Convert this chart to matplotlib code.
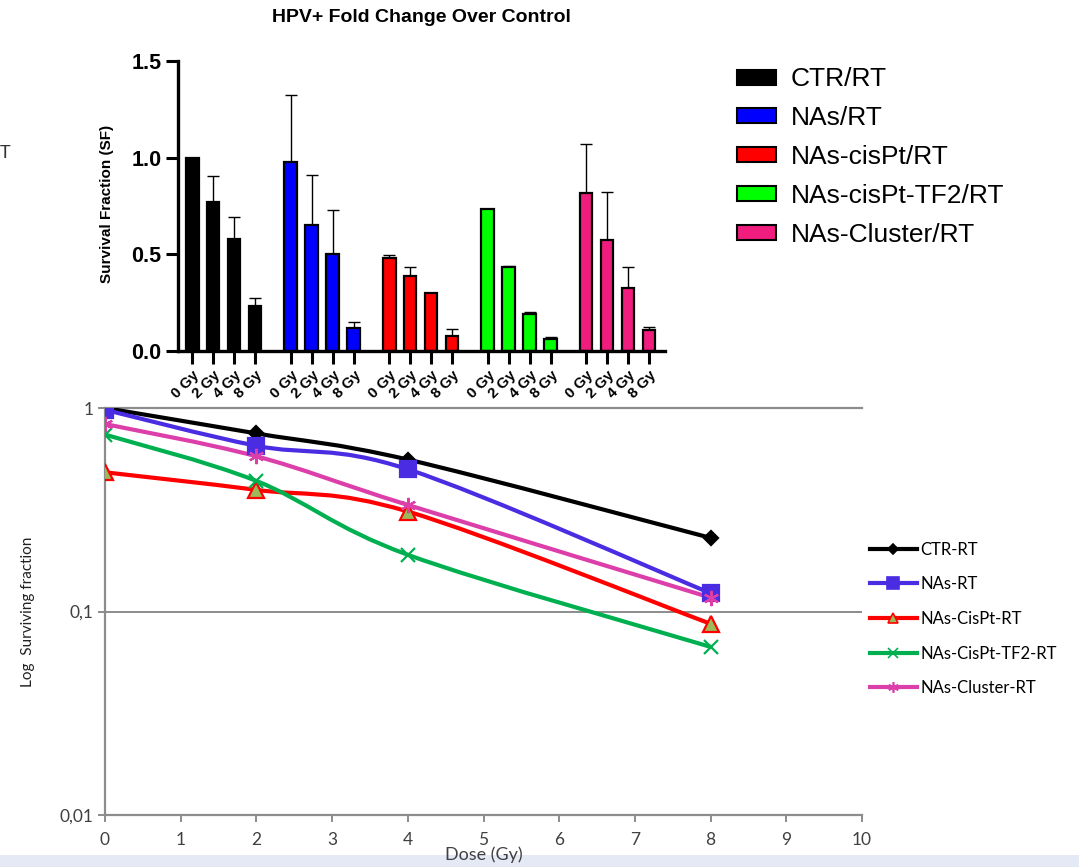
import numpy as np
import matplotlib
matplotlib.use('Agg')
import matplotlib.pyplot as plt
from matplotlib.path import Path
from matplotlib.patches import PathPatch, Patch, Rectangle
from matplotlib.lines import Line2D

# ---- top: bar chart (GraphPad style) ----
groups = ['CTR/RT', 'NAs/RT', 'NAs-cisPt/RT', 'NAs-cisPt-TF2/RT', 'NAs-Cluster/RT']
dose_labels = ['0 Gy', '2 Gy', '4 Gy', '8 Gy']
bar_colors = ['#000000', '#0000FF', '#FF0000', '#00FF00', '#F01D7F']

sf_ctr = [1.00, 0.77, 0.58, 0.235]
sf_nas = [0.98, 0.65, 0.50, 0.12]
sf_cis = [0.48, 0.39, 0.30, 0.08]
sf_tf2 = [0.735, 0.433, 0.19, 0.06]
sf_clu = [0.817, 0.575, 0.325, 0.108]

err_ctr = [0.0, 0.137, 0.115, 0.037]
err_nas = [0.345, 0.26, 0.23, 0.028]
err_cis = [0.018, 0.045, 0.0, 0.035]
err_tf2 = [0.0, 0.008, 0.01, 0.015]
err_clu = [0.255, 0.245, 0.112, 0.017]

# ---- bottom: log survival curves (Excel style) ----
dose = [0, 2, 4, 8]
line_labels = ['CTR-RT', 'NAs-RT', 'NAs-CisPt-RT', 'NAs-CisPt-TF2-RT', 'NAs-Cluster-RT']
surv_ctr = [1.0, 0.75, 0.558, 0.23]
surv_nas = [0.98, 0.652, 0.50, 0.123]
surv_cis = [0.483, 0.396, 0.31, 0.087]
surv_tf2 = [0.74, 0.438, 0.19, 0.067]
surv_clu = [0.834, 0.579, 0.334, 0.117]

sf_all = [sf_ctr, sf_nas, sf_cis, sf_tf2, sf_clu]
err_all = [err_ctr, err_nas, err_cis, err_tf2, err_clu]
surv_all = [surv_ctr, surv_nas, surv_cis, surv_tf2, surv_clu]

W, H = 1079, 867
fig = plt.figure(figsize=(W / 100, H / 100), dpi=100)
fig.patch.set_facecolor('white')

arial = 'Liberation Sans'
calib = 'Lato'

ax1 = fig.add_axes([178 / W, 1 - 351 / H, 487 / W, 290 / H])
ax1.patch.set_alpha(0)
step = 4.7
ticks_x = []
for g in range(5):
    x = g * step + np.arange(4)
    ticks_x += list(x)
    ax1.bar(x, sf_all[g], width=0.6, color=bar_colors[g], edgecolor='black',
            linewidth=1.6, zorder=2)
    ax1.errorbar(x, sf_all[g], yerr=[np.zeros(4), err_all[g]], fmt='none',
                 ecolor='black', elinewidth=1.0, capsize=4, capthick=1.0, zorder=1)

ax1.set_xlim(-0.68, 4 * step + 3 + 0.76)
ax1.set_ylim(0, 1.5)
ax1.set_xticks(ticks_x)
ax1.set_xticklabels(dose_labels * 5, rotation=45, ha='right', va='top',
                    rotation_mode='anchor', fontsize=10.8, fontweight='bold',
                    family=arial)
ax1.set_yticks([0, 0.5, 1.0, 1.5])
ax1.set_yticklabels(['0.0', '0.5', '1.0', '1.5'], fontsize=15.5,
                    fontweight='bold', family=arial)
for s in ['top', 'right']:
    ax1.spines[s].set_visible(False)
for s in ['left', 'bottom']:
    ax1.spines[s].set_linewidth(2.4)
ax1.tick_params(axis='y', length=9, width=2.2, pad=3)
ax1.tick_params(axis='x', length=9.5, width=2.2, pad=3)

fig.text(421 / W, 1 - 17 / H, 'HPV+ Fold Change Over Control', ha='center',
         va='center', fontsize=14, fontweight='bold', family=arial)
fig.text(107 / W, 1 - 204 / H, 'Survival Fraction (SF)', rotation=90,
         ha='center', va='center', fontsize=11, fontweight='bold', family=arial)
fig.text(5 / W, 1 - 153 / H, 'T', ha='center', va='center', fontsize=13,
         family=calib, color='#333333')

bar_handles = [Patch(facecolor=c, edgecolor='black', linewidth=1.5) for c in bar_colors]
fig.legend(bar_handles, groups, loc='center left',
           bbox_to_anchor=(737 / W, 1 - 157 / H), frameon=False,
           prop={'family': arial, 'size': 19}, handlelength=1.48,
           handleheight=0.5, handletextpad=0.55, labelspacing=0.56,
           borderpad=0, borderaxespad=0)

# ---- bottom axes ----
ax2 = fig.add_axes([105 / W, 1 - 815 / H, 757 / W, 407 / H])
ax2.set_yscale('log')
ax2.set_xlim(0, 10)
ax2.set_ylim(0.01, 1)

line_colors = ['#000000', '#4A2CE2', '#FF0000', '#00B050', '#DD3FAA']
markers = ['D', 's', '^', 'x', (6, 2, 0)]
msizes = [7, 12, 11, 10, 11]
mfaces = ['#000000', '#4A2CE2', '#9BBB59', '#00B050', '#DD3FAA']


def smooth_path(xs, ys):
    # Catmull-Rom style smoothing done in log space
    pts = np.column_stack([np.asarray(xs, float), np.log10(ys)])
    n = len(pts)
    verts = [pts[0]]
    codes = [Path.MOVETO]
    for i in range(n - 1):
        p0 = pts[i - 1] if i > 0 else pts[i]
        p1, p2 = pts[i], pts[i + 1]
        p3 = pts[i + 2] if i + 2 < n else pts[i + 1]
        verts += [p1 + (p2 - p0) / 6, p2 - (p3 - p1) / 6, p2]
        codes += [Path.CURVE4] * 3
    verts = np.array(verts)
    verts[:, 1] = 10 ** verts[:, 1]
    return Path(verts, codes)


for i in range(5):
    ax2.add_patch(PathPatch(smooth_path(dose, surv_all[i]), fill=False,
                            edgecolor=line_colors[i], linewidth=3,
                            capstyle='round', joinstyle='round', zorder=3))
for i in range(5):
    ax2.plot(dose, surv_all[i], linestyle='none', marker=markers[i],
             markersize=msizes[i], markerfacecolor=mfaces[i],
             markeredgecolor=line_colors[i], markeredgewidth=1.6, zorder=4)

grid_c = '#8C8C8C'
ax2.set_yticks([0.01, 0.1, 1])
ax2.set_yticklabels(['0,01', '0,1', '1'])
ax2.yaxis.set_minor_locator(matplotlib.ticker.NullLocator())
ax2.set_xticks(range(11))
ax2.grid(axis='y', color=grid_c, linewidth=1.4)
ax2.set_axisbelow(True)
ax2.spines['right'].set_visible(False)
for s in ['left', 'bottom', 'top']:
    ax2.spines[s].set_color(grid_c)
    ax2.spines[s].set_linewidth(1.6)
ax2.tick_params(axis='both', length=5, width=1.4, color=grid_c,
                labelsize=12.5, labelcolor='#404040')
ax2.tick_params(axis='x', pad=7)
for lab in ax2.get_xticklabels() + ax2.get_yticklabels():
    lab.set_family(calib)
ax2.set_xlabel('Dose (Gy)', fontsize=13, family=calib, color='#404040', labelpad=-1)
fig.text(28 / W, 1 - 612 / H, 'Log  Surviving fraction', rotation=90,
         ha='center', va='center', fontsize=11, family=calib, color='#222222')

line_handles = [Line2D([], [], color=line_colors[i], linewidth=3,
                       marker=markers[i], markersize=msizes[i] * 0.7,
                       markerfacecolor=mfaces[i], markeredgecolor=line_colors[i],
                       markeredgewidth=1.2) for i in range(5)]
fig.legend(line_handles, line_labels, loc='center left',
           bbox_to_anchor=(870 / W, 1 - 619 / H), frameon=False,
           prop={'family': calib, 'size': 12}, handlelength=2.8,
           handletextpad=0.2, labelspacing=1.12, borderpad=0, borderaxespad=0)

# light status strip at the bottom of the screenshot, behind the axes text
fig.patches.append(Rectangle((0, 0), 1, 12 / H, transform=fig.transFigure,
                             facecolor='#E4E9F5', edgecolor='none', zorder=-1))

fig.savefig('out.png', dpi=100)
